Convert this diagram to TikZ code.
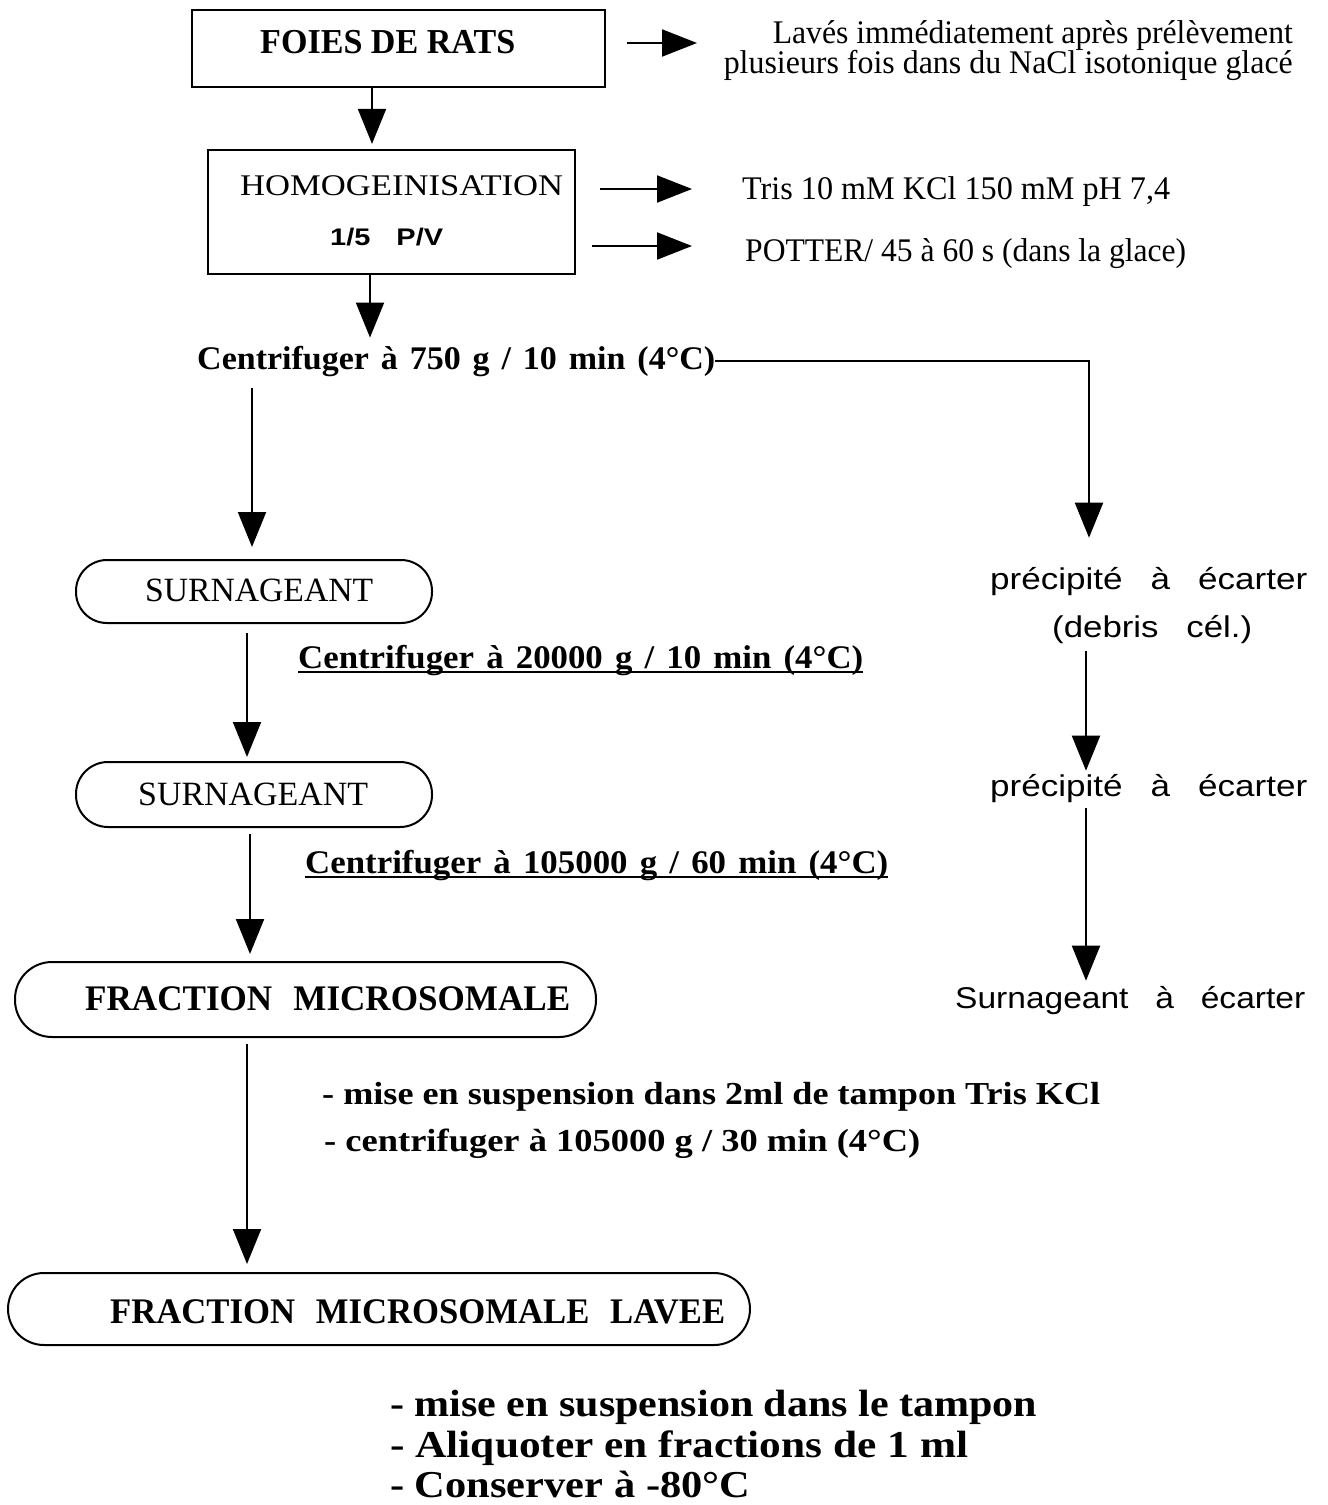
\documentclass[tikz,border=0pt]{standalone}
\usepackage{fontspec}
\setmainfont{Liberation Serif}
\newfontfamily\hv{Liberation Sans}
\usetikzlibrary{arrows.meta}
\newcommand{\fitw}[2]{\resizebox{#1pt}{\height}{#2}}
\newcommand{\fsz}[1]{\fontsize{#1}{#1}\selectfont}
\begin{document}
\begin{tikzpicture}[x=1pt,y=-1pt,
  arr/.style={line width=2pt,-{Triangle[length=35pt,width=28pt]}},
  harr/.style={line width=2pt,-{Triangle[length=35pt,width=27pt]}},
  sqbox/.style={draw,line width=2.2pt,rectangle,inner sep=0pt},
  rbox/.style={draw,line width=2pt,rectangle,inner sep=0pt},
  txt/.style={inner sep=0pt,anchor=base west},
  rtxt/.style={inner sep=0pt,anchor=base east},
  plain/.style={line width=2pt}
]
\fill[white] (0,0) rectangle (1328,1505);
\useasboundingbox (0,0) rectangle (1328,1505);

% boxes
\node[sqbox,minimum width=413pt,minimum height=77pt] (foies) at (398.5,48.5) {};
\node[sqbox,minimum width=367pt,minimum height=124pt] (hom) at (391.5,212) {};
\node[rbox,rounded corners=31pt,minimum width=356pt,minimum height=63pt] (surn1) at (254,591.5) {};
\node[rbox,rounded corners=32pt,minimum width=356pt,minimum height=65pt] (surn2) at (254,794.5) {};
\node[rbox,rounded corners=37pt,minimum width=581pt,minimum height=75pt] (frac) at (305.5,999.5) {};
\node[rbox,rounded corners=36pt,minimum width=742pt,minimum height=72pt] (lav) at (379,1309) {};

% texts in boxes
\node[txt] (foiesT) at (260,53) {\fitw{255}{\fsz{35}\bfseries FOIES DE RATS}};
\node[txt] (homT) at (240,195) {\fitw{323}{\fsz{30}HOMOGEINISATION}};
\node[txt] (pv) at (330,245) {\fitw{113}{\fsz{24}\hv\bfseries 1/5\hspace{0.9em}P/V}};
\node[txt] (surn1T) at (145,601) {\fitw{228}{\fsz{34}SURNAGEANT}};
\node[txt] (surn2T) at (138,805) {\fitw{230}{\fsz{34}SURNAGEANT}};
\node[txt] (fracT) at (85,1010) {\fitw{485}{\fsz{36}\bfseries FRACTION\hspace{0.6em}MICROSOMALE}};
\node[txt] (lavT) at (110,1323) {\fitw{615}{\fsz{36}\bfseries FRACTION\hspace{0.6em}MICROSOMALE\hspace{0.6em}LAVEE}};

% top-right notes
\node[rtxt] (lav1) at (1293,43) {\fitw{520}{\fsz{33}Lavés immédiatement après prélèvement}};
\node[rtxt] (lav2) at (1293,73) {\fitw{569}{\fsz{33}plusieurs fois dans du NaCl isotonique glacé}};
\node[txt] (tris) at (742,199) {\fitw{428}{\fsz{33}Tris 10 mM KCl 150 mM pH 7,4}};
\node[txt] (potter) at (745,261) {\fitw{441}{\fsz{33}POTTER/ 45 à 60 s (dans la glace)}};

% centrifugation steps
\node[txt] (c1) at (197,369) {\fitw{518}{\fsz{33}\bfseries Centrifuger\hspace{0.35em}à\hspace{0.35em}750\hspace{0.35em}g\hspace{0.35em}/\hspace{0.35em}10\hspace{0.35em}min\hspace{0.35em}(4°C)}};
\node[txt] (c2) at (298,668) {\fitw{565}{\fsz{33}\bfseries Centrifuger\hspace{0.35em}à\hspace{0.35em}20000\hspace{0.35em}g\hspace{0.35em}/\hspace{0.35em}10\hspace{0.35em}min\hspace{0.35em}(4°C)}};
\node[txt] (c3) at (305,873) {\fitw{583}{\fsz{33}\bfseries Centrifuger\hspace{0.35em}à\hspace{0.35em}105000\hspace{0.35em}g\hspace{0.35em}/\hspace{0.35em}60\hspace{0.35em}min\hspace{0.35em}(4°C)}};
\draw[line width=1.8pt] ([yshift=-4pt]c2.base west) -- ([yshift=-4pt]c2.base east);
\draw[line width=1.8pt] ([yshift=-4pt]c3.base west) -- ([yshift=-4pt]c3.base east);

\node[txt] (m1) at (322,1104) {\fitw{778}{\fsz{32}\bfseries - mise en suspension dans 2ml de tampon Tris KCl}};
\node[txt] (m2) at (324,1151) {\fitw{596}{\fsz{32}\bfseries - centrifuger à 105000 g / 30 min (4°C)}};

\node[txt] (b1) at (390,1416) {\fitw{647}{\fsz{38}\bfseries - mise en suspension dans le tampon}};
\node[txt] (b2) at (390,1457) {\fitw{578}{\fsz{38}\bfseries - Aliquoter en fractions de 1 ml}};
\node[txt] (b3) at (390,1497) {\fitw{360}{\fsz{38}\bfseries - Conserver à -80°C}};

% right column
\node[txt] (prec1) at (990,589) {\fitw{317}{\fsz{30}\hv précipité\hspace{0.8em}à\hspace{0.8em}écarter}};
\node[txt] (debris) at (1052,637) {\fitw{200}{\fsz{30}\hv (debris\hspace{0.8em}cél.)}};
\node[txt] (prec2) at (990,796) {\fitw{317}{\fsz{30}\hv précipité\hspace{0.8em}à\hspace{0.8em}écarter}};
\node[txt] (surnR) at (955,1008) {\fitw{350}{\fsz{30}\hv Surnageant\hspace{0.8em}à\hspace{0.8em}écarter}};

% x positions of vertical connectors
\coordinate (x1) at (372,0);
\coordinate (x2) at (370,0);
\coordinate (x3) at (252,0);
\coordinate (x4) at (247,0);
\coordinate (x5) at (250,0);
\coordinate (x6) at (247,0);
\coordinate (xr) at (1089,0);
\coordinate (xr2) at (1086,0);

% horizontal arrows at top
\coordinate (a1s) at (627,43);
\coordinate (a1e) at (697,43);
\coordinate (a2s) at (600,189);
\coordinate (a2e) at (692,189);
\coordinate (a3s) at (592,246);
\coordinate (a3e) at (692,246);
\draw[harr] (a1s) -- (a1e);
\draw[harr] (a2s) -- (a2e);
\draw[harr] (a3s) -- (a3e);

% main flow
\draw[arr] (foies.south -| x1) -- ([yshift=5pt]hom.north -| x1);
\draw[arr] (hom.south -| x2) -- ([yshift=8pt]c1.north -| x2);
\draw[arr] ([yshift=-12pt]c1.south -| x3) -- ([yshift=12pt]surn1.north -| x3);
\draw[arr] ([yshift=-9pt]surn1.south -| x4) -- ([yshift=4pt]surn2.north -| x4);
\draw[arr] ([yshift=-6pt]surn2.south -| x5) -- ([yshift=7pt]frac.north -| x5);
\draw[arr] ([yshift=-6pt]frac.south -| x6) -- ([yshift=8pt]lav.north -| x6);

% branch
\draw[arr] (c1.east) -- (c1.east -| xr) -- ([yshift=29pt]prec1.north -| xr);
\draw[arr] ([yshift=-8pt]debris.south -| xr2) -- ([yshift=3pt]prec2.north -| xr2);
\draw[arr] ([yshift=-6pt]prec2.south -| xr2) -- ([yshift=5pt]surnR.north -| xr2);
\end{tikzpicture}
\end{document}
